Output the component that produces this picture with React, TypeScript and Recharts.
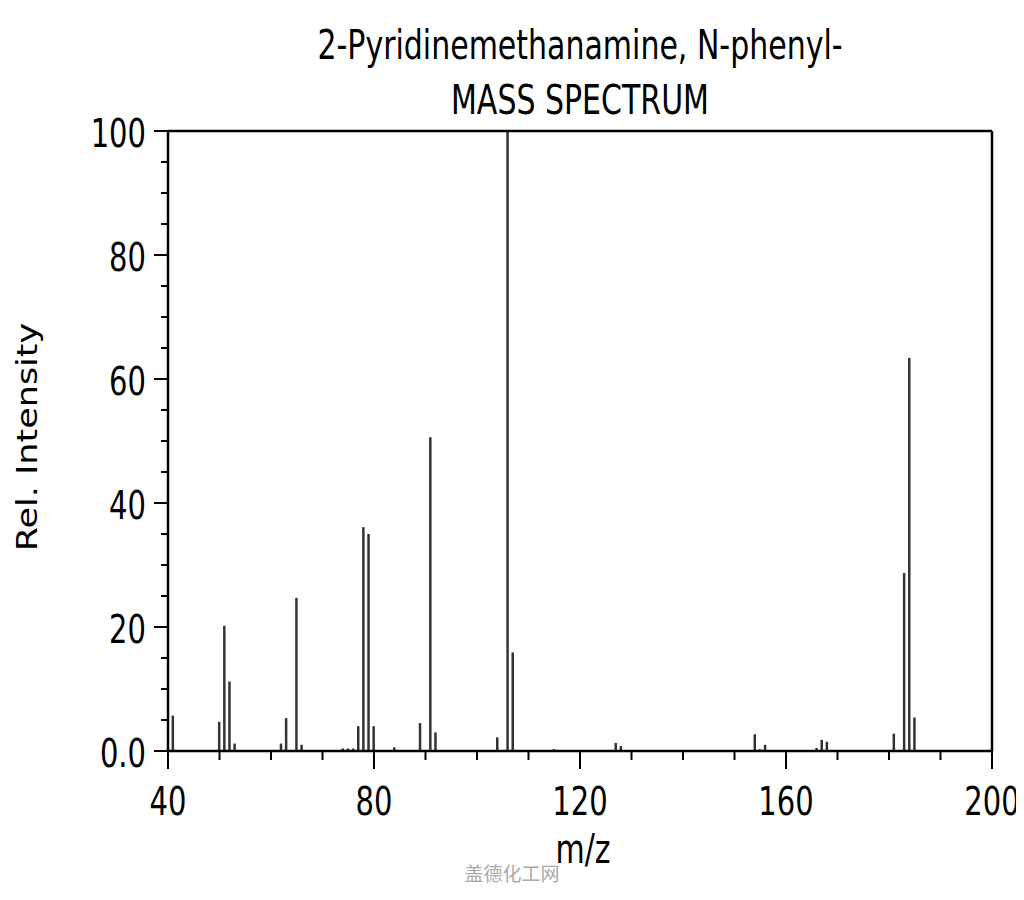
import React from "react";
import { BarChart, Bar, XAxis, YAxis, ReferenceLine } from "recharts";

const mzValues = [41, 50, 51, 52, 53, 62, 63, 65, 66, 74, 75, 76, 77, 78, 79, 80, 84, 89, 91, 92, 104, 106, 107, 115, 127, 128, 154, 155, 156, 166, 167, 168, 181, 183, 184, 185];
const intensities = [5.7, 4.7, 20.2, 11.2, 1.2, 1.2, 5.3, 24.7, 1.0, 0.4, 0.4, 0.4, 4.0, 36.1, 35.0, 4.0, 0.6, 4.5, 50.6, 3.0, 2.2, 100, 15.9, 0.3, 1.3, 0.8, 2.7, 0.3, 1.0, 0.5, 1.8, 1.5, 2.8, 28.7, 63.4, 5.4];

const xTicks = [40, 50, 60, 70, 80, 90, 100, 110, 120, 130, 140, 150, 160, 170, 180, 190, 200];
const xLabelTicks = [40, 80, 120, 160, 200];
const yTicks = [0, 5, 10, 15, 20, 25, 30, 35, 40, 45, 50, 55, 60, 65, 70, 75, 80, 85, 90, 95, 100];
const yLabelTicks = [0, 20, 40, 60, 80, 100];
const yLabelText = ["0.0", "20", "40", "60", "80", "100"];

const titleLine1 = "2-Pyridinemethanamine, N-phenyl-";
const titleLine2 = "MASS SPECTRUM";
const xAxisTitle = "m/z";
const yAxisTitle = "Rel. Intensity";
const watermark = "盖德化工网";

const data = mzValues.map((m, i) => ({ mz: m, intensity: intensities[i] }));

const FONT = "DejaVu Sans";
const SY = 1.37;

function XTick(props: any) {
  const { x, y, payload } = props;
  const major = xLabelTicks.includes(payload.value);
  return (
    <g>
      <line x1={x} x2={x} y1={y} y2={y + (major ? 18 : 9)} stroke="#000" strokeWidth={2} />
      {major && (
        <text
          transform={`translate(${x},${y + 64}) scale(1,${SY})`}
          textAnchor="middle"
          fontSize={29}
          fontFamily={FONT}
          fill="#000"
        >
          {payload.value}
        </text>
      )}
    </g>
  );
}

function YTick(props: any) {
  const { x, y, payload } = props;
  const idx = yLabelTicks.indexOf(payload.value);
  const major = idx >= 0;
  return (
    <g>
      <line x1={x - (major ? 14 : 7)} x2={x} y1={y} y2={y} stroke="#000" strokeWidth={2} />
      {major && (
        <text
          transform={`translate(${x - 22},${y + 16}) scale(1,${SY})`}
          textAnchor="end"
          fontSize={29}
          fontFamily={FONT}
          fill="#000"
        >
          {yLabelText[idx]}
        </text>
      )}
    </g>
  );
}

export default function App() {
  const W = 1000;
  const H = 884;
  return (
    <div style={{ position: "relative", width: W, height: H, background: "#fff" }}>
      <style>{`.recharts-surface{overflow:visible}`}</style>
      <BarChart
        width={W}
        height={H}
        data={data}
        margin={{ top: 123, right: 16, left: 0, bottom: 41 }}
      >
        <XAxis
          dataKey="mz"
          type="number"
          domain={[40, 200]}
          ticks={xTicks}
          interval={0}
          allowDataOverflow
          height={100}
          tickSize={0}
          tickMargin={0}
          tickLine={false}
          axisLine={{ stroke: "#000", strokeWidth: 2.5 }}
          tick={<XTick />}
        />
        <YAxis
          type="number"
          domain={[0, 100]}
          ticks={yTicks}
          interval={0}
          allowDataOverflow
          width={160}
          tickSize={0}
          tickMargin={0}
          tickLine={false}
          axisLine={{ stroke: "#000", strokeWidth: 2.5 }}
          tick={<YTick />}
        />
        <ReferenceLine y={100} stroke="#000" strokeWidth={2.5} />
        <ReferenceLine x={200} stroke="#000" strokeWidth={2.5} />
        <Bar dataKey="intensity" fill="#333" barSize={2.5} isAnimationActive={false} />
      </BarChart>
      <svg
        width={W}
        height={H}
        style={{ position: "absolute", left: 0, top: 0, pointerEvents: "none", overflow: "visible" }}
      >
        <text transform={`translate(572,51) scale(1,${SY})`} textAnchor="middle" fontSize={30} fontFamily={FONT} fill="#000">
          {titleLine1}
        </text>
        <text transform={`translate(572,106) scale(1,${SY})`} textAnchor="middle" fontSize={30} fontFamily={FONT} fill="#000">
          {titleLine2}
        </text>
        <text transform={`translate(575,855) scale(1,${SY})`} textAnchor="middle" fontSize={30} fontFamily={FONT} fill="#000">
          {xAxisTitle}
        </text>
        <text transform={`translate(29,429) rotate(-90) scale(1,0.83)`} textAnchor="middle" fontSize={35} fontFamily={FONT} fill="#000">
          {yAxisTitle}
        </text>
        <text x={504} y={873} textAnchor="middle" fontSize={19} fontFamily="Noto Sans CJK SC" fill="#aaa">
          {watermark}
        </text>
      </svg>
    </div>
  );
}
